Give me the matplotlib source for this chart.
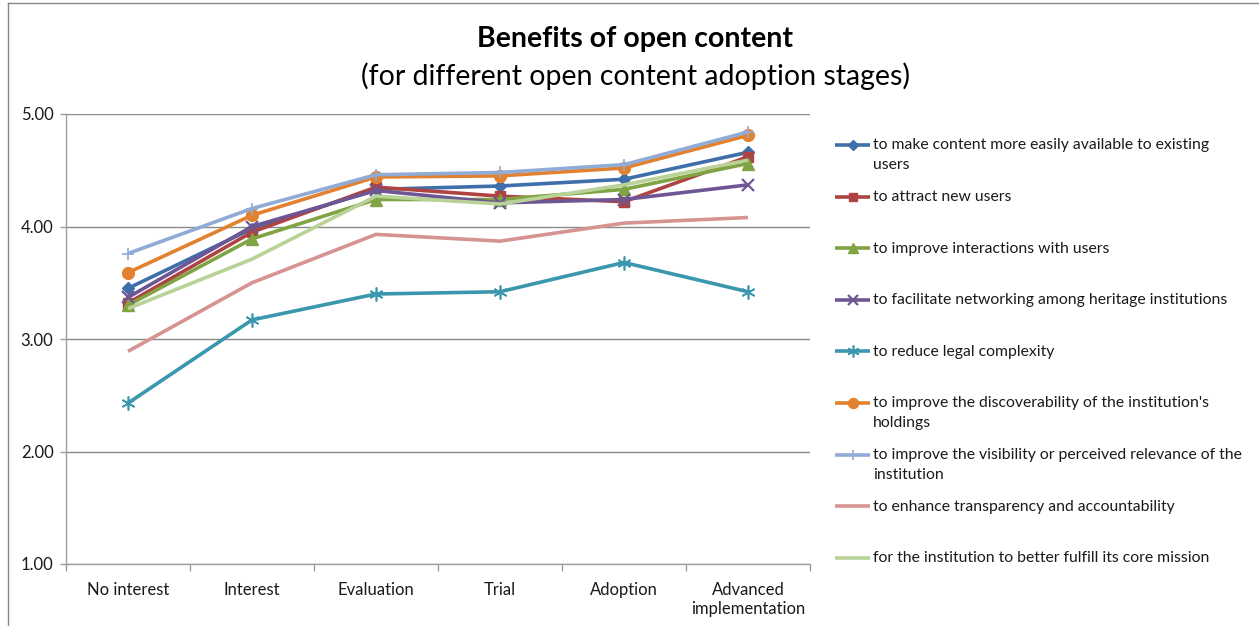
import matplotlib
matplotlib.use("Agg")
import matplotlib.pyplot as plt
from matplotlib.lines import Line2D

W, H = 1259, 626
FONT = ["Lato", "DejaVu Sans"]
plt.rcParams["font.family"] = FONT

stages = ["No interest", "Interest", "Evaluation", "Trial", "Adoption",
          "Advanced\nimplementation"]

easily_available = [3.45, 3.98, 4.33, 4.36, 4.42, 4.66]
new_users = [3.32, 3.95, 4.35, 4.27, 4.22, 4.62]
interactions = [3.30, 3.89, 4.24, 4.24, 4.33, 4.56]
networking = [3.37, 4.00, 4.32, 4.21, 4.24, 4.37]
legal_complexity = [2.43, 3.17, 3.40, 3.42, 3.68, 3.42]
discoverability = [3.59, 4.10, 4.44, 4.45, 4.52, 4.81]
visibility = [3.76, 4.16, 4.46, 4.48, 4.55, 4.84]
transparency = [2.89, 3.50, 3.93, 3.87, 4.03, 4.08]
core_mission = [3.27, 3.71, 4.27, 4.20, 4.37, 4.59]

labels = [
    "to make content more easily available to existing\nusers",
    "to attract new users",
    "to improve interactions with users",
    "to facilitate networking among heritage institutions",
    "to reduce legal complexity",
    "to improve the discoverability of the institution's\nholdings",
    "to improve the visibility or perceived relevance of the\ninstitution",
    "to enhance transparency and accountability",
    "for the institution to better fulfill its core mission",
]
series = [easily_available, new_users, interactions, networking, legal_complexity,
          discoverability, visibility, transparency, core_mission]

# (colour, marker, marker size, marker edge width)
styles = [
    ("#3F6FAA", "D", 6.5, 1.0),
    ("#AE4441", "s", 7.5, 1.0),
    ("#80A443", "^", 8.0, 1.0),
    ("#6E5694", "x", 8.0, 1.6),
    ("#3A97AE", (6, 2, 0), 10.0, 1.2),
    ("#E2812F", "o", 8.5, 1.0),
    ("#8FABD6", "+", 9.0, 1.2),
    ("#D59391", None, 0, 0),
    ("#B8D298", None, 0, 0),
]


def fig_xy(px, py):
    return px / W, 1 - py / H


fig = plt.figure(figsize=(W / 100, H / 100), dpi=100)
ax = fig.add_axes([66 / W, 1 - 564 / H, (810 - 66) / W, (564 - 114) / H])

x = list(range(len(stages)))
for vals, (color, marker, ms, mew) in zip(series, styles):
    ax.plot(x, vals, color=color, linewidth=2.6, marker=marker, markersize=ms,
            markeredgewidth=mew, markeredgecolor=color, markerfacecolor=color,
            solid_capstyle="butt", clip_on=False)

ax.set_xlim(-0.5, len(stages) - 0.5)
ax.set_ylim(1, 5)
ax.set_yticks([1, 2, 3, 4, 5])
ax.set_yticklabels([f"{v:.2f}" for v in [1, 2, 3, 4, 5]])
ax.set_xticks(x)
ax.set_xticklabels(stages)
ax.set_xticks([i - 0.5 for i in range(len(stages) + 1)], minor=True)
ax.tick_params(axis="x", which="major", length=0, pad=13, labelsize=12,
               labelcolor="#1a1a1a")
ax.tick_params(axis="x", which="minor", length=5, color="#9a9a9a", width=1)
ax.tick_params(axis="y", length=4, color="#9a9a9a", width=1, pad=5,
               labelsize=12, labelcolor="#1a1a1a")
for lbl in ax.get_xticklabels():
    lbl.set_linespacing(1.25)
ax.grid(axis="y", color="#8a8a8a", linewidth=1.0)
ax.set_axisbelow(True)
for side in ("top", "right"):
    ax.spines[side].set_visible(False)
for side in ("left", "bottom"):
    ax.spines[side].set_color("#a0a0a0")
    ax.spines[side].set_linewidth(1.0)

fig.text(*fig_xy(635, 39), "Benefits of open content", ha="center", va="center",
         fontsize=20.5, fontweight="bold")
fig.text(*fig_xy(635, 76), "(for different open content adoption stages)",
         ha="center", va="center", fontsize=20.5)

# legend laid out by hand, one row per series
row_top = 145
row_step = 51.6
for i, (label, (color, marker, ms, mew)) in enumerate(zip(labels, styles)):
    yy = row_top + i * row_step
    fig.add_artist(Line2D([835 / W, 870 / W], [1 - yy / H, 1 - yy / H],
                          color=color, linewidth=2.6, solid_capstyle="butt"))
    if marker is not None:
        fig.add_artist(Line2D([852.5 / W], [1 - yy / H], marker=marker,
                              markersize=ms * 0.85, color=color,
                              markeredgewidth=mew, linestyle="none"))
    fig.text(873 / W, 1 - (yy - 6.5) / H, label, ha="left", va="top",
             fontsize=11.3, color="#1a1a1a", linespacing=1.5)

# outer chart border
fig.add_artist(Line2D([8 / W, 8 / W], [0, 1 - 3 / H], color="#868686", linewidth=1))
fig.add_artist(Line2D([8 / W, 1], [1 - 3 / H, 1 - 3 / H], color="#868686", linewidth=1))

fig.savefig("out.png", dpi=100)
